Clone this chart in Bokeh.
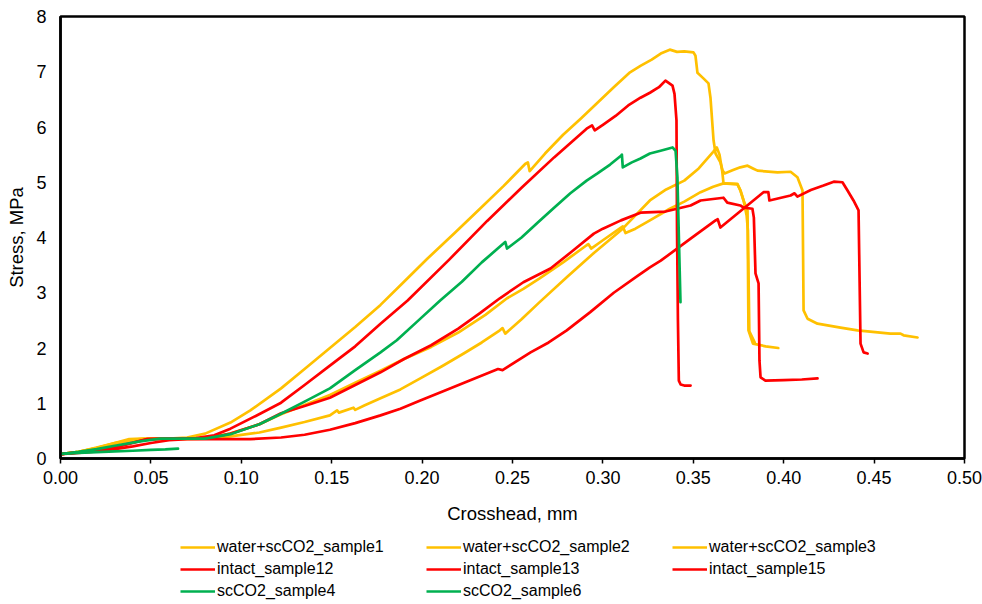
from bokeh.plotting import figure
from bokeh.layouts import column
from bokeh.models import Range1d, Legend, LegendItem, NumeralTickFormatter, FixedTicker
from bokeh.embed import file_html
from bokeh.resources import INLINE

# ---- data ----
x_ticks = [0.0, 0.05, 0.10, 0.15, 0.20, 0.25, 0.30, 0.35, 0.40, 0.45, 0.50]
y_ticks = [0, 1, 2, 3, 4, 5, 6, 7, 8]

series_names = ["water+scCO2_sample1", "water+scCO2_sample2", "water+scCO2_sample3",
                "intact_sample12", "intact_sample13", "intact_sample15",
                "scCO2_sample4", "scCO2_sample6"]
series_colors = ["#FFC000", "#FFC000", "#FFC000",
                 "#FF0000", "#FF0000", "#FF0000",
                 "#00B050", "#00B050"]

w1_x = [0, 0.01, 0.02, 0.03, 0.038, 0.045, 0.06, 0.07, 0.08, 0.094, 0.105, 0.122, 0.135, 0.149,
        0.163, 0.177, 0.19, 0.203, 0.218, 0.232, 0.245, 0.257, 0.2585, 0.2595, 0.268, 0.278,
        0.288, 0.297, 0.306, 0.315, 0.321, 0.327, 0.332, 0.337, 0.341, 0.345, 0.3501, 0.3512,
        0.3523, 0.3556, 0.3584, 0.3595, 0.3612, 0.3623, 0.365, 0.3662, 0.3673, 0.372, 0.376,
        0.380, 0.383, 0.3855, 0.3966, 0.4038, 0.4076, 0.4104, 0.411, 0.4132, 0.4187, 0.4314,
        0.4408, 0.459, 0.4646, 0.4663, 0.474]
w1_y = [0.08, 0.12, 0.19, 0.28, 0.35, 0.36, 0.36, 0.38, 0.45, 0.65, 0.87, 1.27, 1.62, 2.0,
        2.38, 2.78, 3.2, 3.62, 4.08, 4.52, 4.93, 5.33, 5.36, 5.2, 5.52, 5.86,
        6.16, 6.44, 6.72, 6.99, 7.11, 7.22, 7.33, 7.40, 7.36, 7.37, 7.35, 7.29,
        6.98, 6.88, 6.79, 6.53, 5.76, 5.52, 5.36, 5.21, 5.16, 5.22, 5.27,
        5.30, 5.25, 5.21, 5.18, 5.19, 5.09, 4.85, 2.68, 2.53, 2.44, 2.37,
        2.32, 2.26, 2.26, 2.23, 2.19]

w2_x = [0, 0.01, 0.02, 0.03, 0.04, 0.05, 0.065, 0.08, 0.094, 0.11, 0.122, 0.135, 0.149, 0.153,
        0.154, 0.162, 0.163, 0.168, 0.177, 0.188, 0.199, 0.211, 0.223, 0.233, 0.243, 0.2445,
        0.246, 0.255, 0.265, 0.28, 0.295, 0.31, 0.318, 0.326, 0.335, 0.345, 0.353, 0.361,
        0.363, 0.3645, 0.366, 0.3667, 0.3744, 0.3761, 0.3778, 0.38, 0.3805, 0.383, 0.39, 0.397]
w2_y = [0.08, 0.12, 0.2, 0.28, 0.34, 0.35, 0.35, 0.36, 0.40, 0.47, 0.56, 0.66, 0.78, 0.87,
        0.83, 0.92, 0.88, 0.96, 1.09, 1.25, 1.45, 1.67, 1.9, 2.1, 2.32, 2.36,
        2.26, 2.52, 2.83, 3.28, 3.72, 4.13, 4.4, 4.67, 4.87, 5.03, 5.25, 5.55,
        5.63, 5.5, 5.2, 4.98, 4.96, 4.85, 4.67, 4.49, 2.32, 2.08, 2.03, 2.0]

w3_x = [0, 0.01, 0.02, 0.03, 0.04, 0.05, 0.065, 0.08, 0.094, 0.11, 0.122, 0.135, 0.149, 0.163,
        0.177, 0.19, 0.205, 0.22, 0.235, 0.247, 0.256, 0.265, 0.278, 0.291, 0.292, 0.2935,
        0.30, 0.310, 0.311, 0.3125, 0.318, 0.326, 0.337, 0.345, 0.354, 0.361, 0.3667, 0.3744,
        0.3761, 0.3778, 0.3795, 0.3802, 0.381, 0.384]
w3_y = [0.08, 0.12, 0.19, 0.27, 0.34, 0.36, 0.36, 0.37, 0.45, 0.62, 0.8, 0.97, 1.15, 1.37,
        1.59, 1.8, 2.02, 2.28, 2.6, 2.9, 3.07, 3.26, 3.55, 3.86, 3.88, 3.8,
        3.95, 4.18, 4.2, 4.08, 4.16, 4.31, 4.52, 4.65, 4.82, 4.92, 4.98, 4.97,
        4.85, 4.67, 4.4, 4.13, 2.3, 2.1]

i12_x = [0, 0.01, 0.02, 0.03, 0.04, 0.048, 0.06, 0.075, 0.085, 0.094, 0.108, 0.122, 0.135,
         0.149, 0.163, 0.177, 0.192, 0.215, 0.236, 0.255, 0.273, 0.291, 0.294, 0.2955, 0.30,
         0.307, 0.314, 0.3208, 0.326, 0.331, 0.3346, 0.3385, 0.3396, 0.3407, 0.341, 0.3415,
         0.342, 0.343, 0.345, 0.3485]
i12_y = [0.08, 0.11, 0.15, 0.2, 0.28, 0.35, 0.36, 0.37, 0.42, 0.54, 0.77, 1.01, 1.33,
         1.68, 2.03, 2.44, 2.86, 3.6, 4.3, 4.9, 5.45, 5.97, 6.03, 5.94, 6.04,
         6.2, 6.39, 6.53, 6.62, 6.72, 6.84, 6.75, 6.6, 6.12, 4.13, 2.5,
         1.41, 1.34, 1.32, 1.32]

i13_x = [0, 0.01, 0.02, 0.03, 0.04, 0.048, 0.06, 0.075, 0.085, 0.094, 0.11, 0.122, 0.135,
         0.149, 0.163, 0.177, 0.19, 0.205, 0.22, 0.232, 0.243, 0.256, 0.271, 0.283, 0.295,
         0.30, 0.310, 0.3208, 0.3346, 0.3485, 0.354, 0.3667, 0.3688, 0.376, 0.3778, 0.3827,
         0.3835, 0.3844, 0.3861, 0.3866, 0.3872, 0.3899, 0.40, 0.41, 0.4187]
i13_y = [0.08, 0.11, 0.15, 0.21, 0.29, 0.35, 0.36, 0.36, 0.39, 0.45, 0.62, 0.82, 0.95,
         1.10, 1.33, 1.56, 1.8, 2.05, 2.35, 2.63, 2.9, 3.19, 3.44, 3.75, 4.07,
         4.16, 4.31, 4.45, 4.47, 4.58, 4.67, 4.72, 4.63, 4.58, 4.54, 4.52,
         4.36, 3.35, 3.17, 1.77, 1.47, 1.41, 1.42, 1.43, 1.45]

i15_x = [0, 0.01, 0.02, 0.03, 0.04, 0.05, 0.06, 0.07, 0.09, 0.105, 0.122, 0.135, 0.149, 0.163,
         0.177, 0.188, 0.199, 0.212, 0.227, 0.242, 0.2445, 0.26, 0.27, 0.280, 0.293, 0.306,
         0.319, 0.326, 0.332, 0.3485, 0.3623, 0.3635, 0.365, 0.3888, 0.3915, 0.3921, 0.4038,
         0.4060, 0.4076, 0.415, 0.422, 0.4277, 0.4325, 0.4353, 0.4386, 0.4414, 0.4425, 0.4442,
         0.4464]
i15_y = [0.08, 0.10, 0.13, 0.17, 0.22, 0.28, 0.33, 0.35, 0.35, 0.35, 0.38, 0.43, 0.52, 0.64,
         0.78, 0.9, 1.05, 1.22, 1.42, 1.62, 1.6, 1.92, 2.1, 2.32, 2.65, 3.0,
         3.3, 3.46, 3.58, 3.98, 4.31, 4.33, 4.18, 4.82, 4.82, 4.67, 4.76,
         4.8, 4.74, 4.86, 4.94, 5.01, 5.0, 4.85, 4.67, 4.49, 2.08, 1.92,
         1.9]

c4_x = [0, 0.01, 0.02, 0.03, 0.044, 0.055, 0.07, 0.08, 0.094, 0.11, 0.122, 0.135, 0.149, 0.163,
        0.177, 0.186, 0.198, 0.21, 0.222, 0.233, 0.245, 0.246, 0.247, 0.255, 0.264, 0.273,
        0.282, 0.291, 0.297, 0.304, 0.310, 0.3105, 0.311, 0.316, 0.3208, 0.326, 0.3319, 0.3385,
        0.3402, 0.3412, 0.3429]
c4_y = [0.08, 0.12, 0.17, 0.23, 0.31, 0.36, 0.36, 0.36, 0.44, 0.62, 0.81, 1.03, 1.27, 1.6,
        1.92, 2.14, 2.5, 2.86, 3.2, 3.55, 3.89, 3.92, 3.8, 4.0, 4.27, 4.54,
        4.8, 5.03, 5.16, 5.32, 5.48, 5.5, 5.27, 5.36, 5.43, 5.52, 5.57, 5.63,
        5.57, 5.09, 2.83]

c6_x = [0, 0.01, 0.02, 0.03, 0.04, 0.05, 0.058, 0.065]
c6_y = [0.085, 0.10, 0.115, 0.13, 0.14, 0.155, 0.165, 0.18]

series_x = [w1_x, w2_x, w3_x, i12_x, i13_x, i15_x, c4_x, c6_x]
series_y = [w1_y, w2_y, w3_y, i12_y, i13_y, i15_y, c4_y, c6_y]

FONT = "Liberation Sans"

# ---- main chart ----
p = figure(width=982, height=536, x_range=Range1d(0, 0.5), y_range=Range1d(0, 8),
           output_backend="svg", toolbar_location=None,
           min_border_left=60, min_border_right=18, min_border_top=16, min_border_bottom=78)

p.xgrid.visible = False
p.ygrid.visible = False
p.outline_line_color = "black"
p.outline_line_width = 2.5
p.background_fill_color = "white"
p.border_fill_color = "white"

for name, color, xs, ys in zip(series_names, series_colors, series_x, series_y):
    p.line(xs, ys, line_color=color, line_width=2.7, line_join="round", line_cap="round")

p.xaxis.ticker = FixedTicker(ticks=x_ticks)
p.xaxis.formatter = NumeralTickFormatter(format="0.00")
p.yaxis.ticker = FixedTicker(ticks=y_ticks)

for ax in (p.xaxis[0], p.yaxis[0]):
    ax.axis_line_color = "black"
    ax.axis_line_width = 2.5
    ax.minor_tick_line_color = None
    ax.major_label_text_font = FONT
    ax.major_label_text_font_size = "18px"
    ax.major_label_text_color = "black"
    ax.axis_label_text_font = FONT
    ax.axis_label_text_font_size = "18.5px"
    ax.axis_label_text_font_style = "normal"
    ax.axis_label_text_color = "black"

p.xaxis.axis_label = "Crosshead, mm"
p.xaxis.major_tick_in = 0
p.xaxis.major_tick_out = 5
p.xaxis.major_tick_line_width = 1.5
p.xaxis.major_tick_line_color = "black"
p.xaxis.major_label_standoff = 7
p.xaxis.axis_label_standoff = 16

p.yaxis.axis_label = "Stress, MPa"
p.yaxis.major_tick_in = 0
p.yaxis.major_tick_out = 0
p.yaxis.major_label_standoff = 14
p.yaxis.axis_label_standoff = 6

# ---- legend strip (its line renderers lie outside the strip's visible range) ----
lg = figure(width=982, height=68, output_backend="svg", toolbar_location=None,
            x_range=Range1d(10, 11), y_range=Range1d(10, 11),
            min_border=0, min_border_left=0, min_border_right=0,
            min_border_top=0, min_border_bottom=0,
            x_axis_location=None, y_axis_location=None)
lg.xgrid.visible = False
lg.ygrid.visible = False
lg.outline_line_color = None
lg.background_fill_color = "white"
lg.border_fill_color = "white"

items = []
for name, color, xs, ys in zip(series_names, series_colors, series_x, series_y):
    r = lg.line(xs, ys, line_color=color, line_width=2.7)
    items.append(LegendItem(label=name, renderers=[r]))

legend = Legend(items=items, orientation="horizontal", ncols=3,
                location=(120, 3),
                glyph_width=35, glyph_height=20, label_height=20, label_width=207,
                label_standoff=2, spacing=2, padding=0, margin=0,
                label_text_font=FONT, label_text_font_size="16px", label_text_color="black",
                border_line_alpha=0, background_fill_alpha=0)
lg.add_layout(legend, "center")

layout = column(p, lg, spacing=0)
open("out.html", "w").write(file_html(layout, INLINE))
